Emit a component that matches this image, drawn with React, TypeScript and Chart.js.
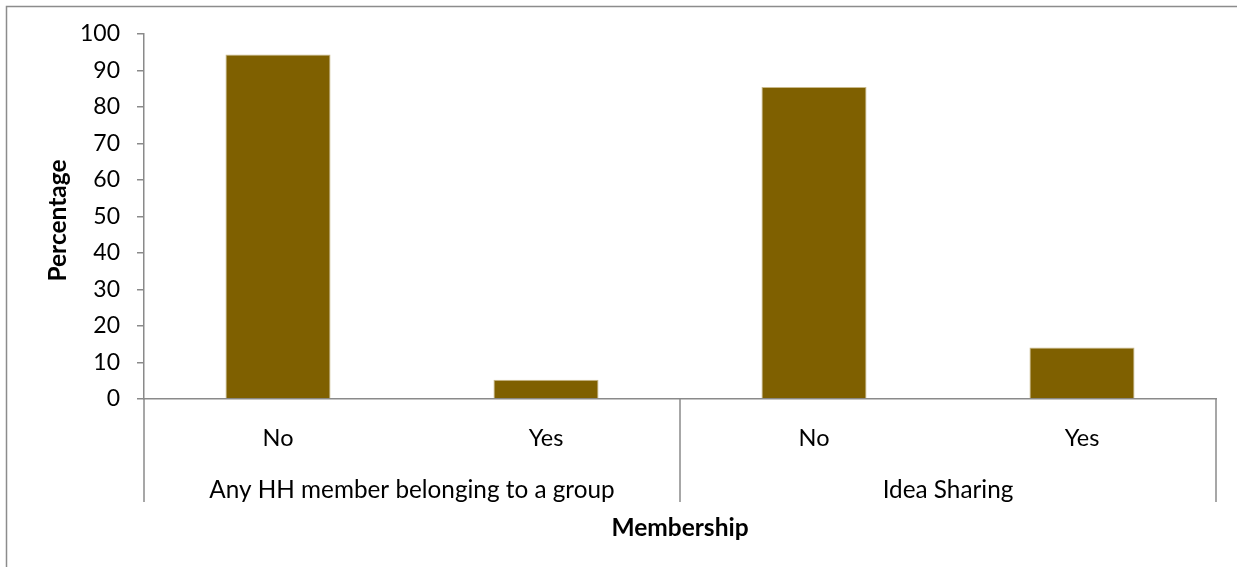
import { useEffect, useRef } from "react";
import { Chart, registerables } from "chart.js";

Chart.register(...registerables);

const categories = ["No", "Yes", "No", "Yes"];
const groupLabels = ["Any HH member belonging to a group", "Idea Sharing"];
const groupSpans = [2, 2];
const values = [94.4, 5.3, 85.5, 14.1];
const yTickValues = [0, 10, 20, 30, 40, 50, 60, 70, 80, 90, 100];
const yTitle = "Percentage";
const xTitle = "Membership";

const FONT = "Lato, 'Liberation Sans', sans-serif";
const AXIS_GRAY = "#8a8a8a";

const decorPlugin = {
  id: "decor",
  beforeDraw(chart: any) {
    const { ctx, width, height } = chart;
    ctx.save();
    ctx.fillStyle = "#ffffff";
    ctx.fillRect(0, 0, width, height);
    ctx.restore();
  },
  afterDraw(chart: any) {
    const { ctx, chartArea, scales } = chart;
    const x = scales.x;
    ctx.save();
    // outer frame (top and left edges visible)
    ctx.strokeStyle = "#8c8c8c";
    ctx.lineWidth = 1.5;
    ctx.beginPath();
    ctx.moveTo(6.5, chart.height);
    ctx.lineTo(6.5, 6.5);
    ctx.lineTo(chart.width, 6.5);
    ctx.stroke();

    // group separators
    const half = (x.getPixelForValue(1) - x.getPixelForValue(0)) / 2;
    const edges: number[] = [x.getPixelForValue(0) - half];
    let idx = 0;
    groupSpans.forEach((span) => {
      idx += span;
      edges.push(x.getPixelForValue(idx - 1) + half);
    });
    ctx.strokeStyle = AXIS_GRAY;
    ctx.lineWidth = 1.5;
    edges.forEach((e) => {
      ctx.beginPath();
      ctx.moveTo(e, chartArea.bottom);
      ctx.lineTo(e, chartArea.bottom + 103);
      ctx.stroke();
    });

    // group labels
    ctx.fillStyle = "#000";
    ctx.font = `24.3px ${FONT}`;
    ctx.textAlign = "center";
    ctx.textBaseline = "middle";
    groupLabels.forEach((g, i) => {
      const cx = (edges[i] + edges[i + 1]) / 2;
      ctx.fillText(g, cx, chartArea.bottom + 91);
    });

    // x title
    ctx.font = `bold 24.5px ${FONT}`;
    ctx.fillText(xTitle, (chartArea.left + chartArea.right) / 2, chartArea.bottom + 129);

    // y title
    ctx.save();
    ctx.translate(58, (chartArea.top + chartArea.bottom) / 2 + 4);
    ctx.rotate(-Math.PI / 2);
    ctx.fillText(yTitle, 0, 0);
    ctx.restore();

    ctx.restore();
  },
};

export default function App() {
  const canvasRef = useRef<HTMLCanvasElement | null>(null);

  useEffect(() => {
    if (!canvasRef.current) return;
    const chart = new Chart(canvasRef.current, {
      type: "bar",
      data: {
        labels: categories,
        datasets: [
          {
            data: values,
            backgroundColor: "#7f6000",
            borderColor: "#c9b98a",
            borderWidth: 1,
            barPercentage: 0.392,
            categoryPercentage: 1,
          },
        ],
      },
      options: {
        animation: false,
        responsive: true,
        maintainAspectRatio: false,
        layout: { padding: { left: 0, top: 34, right: 21, bottom: 0 } },
        plugins: {
          legend: { display: false },
          tooltip: { enabled: false },
        },
        scales: {
          x: {
            type: "category",
            grid: { display: false, drawTicks: false },
            border: { display: true, color: AXIS_GRAY, width: 1.5 },
            ticks: {
              color: "#000",
              font: { family: FONT, size: 23.5 },
              padding: 25,
              maxRotation: 0,
            },
            afterFit: (s: any) => {
              s.height = 168;
            },
          },
          y: {
            min: 0,
            max: 100,
            afterBuildTicks: (s: any) => {
              s.ticks = yTickValues.map((v) => ({ value: v }));
            },
            grid: {
              drawOnChartArea: false,
              drawTicks: true,
              tickLength: 7,
              color: AXIS_GRAY,
              lineWidth: 1.5,
            },
            border: { display: true, color: AXIS_GRAY, width: 1.5 },
            ticks: {
              color: "#000",
              font: { family: FONT, size: 23 },
              padding: 17,
            },
            afterFit: (s: any) => {
              s.width = 144;
            },
          },
        },
      },
      plugins: [decorPlugin],
    });
    return () => chart.destroy();
  }, []);

  return (
    <div style={{ position: "absolute", left: 0, top: 0, width: 1237, height: 567 }}>
      <canvas ref={canvasRef} />
    </div>
  );
}
